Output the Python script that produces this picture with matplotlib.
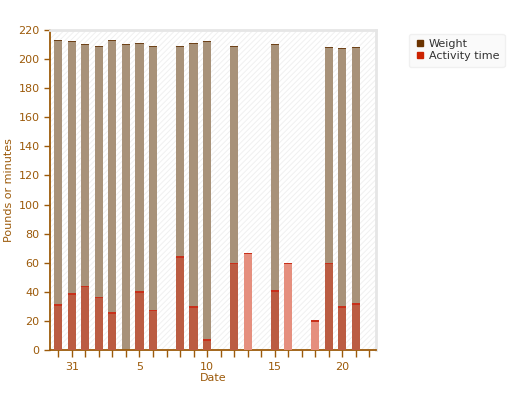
#weight and activity per day, stacked style bar chart
import matplotlib.pyplot as plt
import matplotlib.patches as mpatches
from matplotlib.lines import Line2D

# day index: 31 -> 0, following month days 1..21 -> 1..21, 30 -> -1
weight_days = [-1, 0, 1, 2, 3, 4, 5, 6, 8, 9, 10, 12, 15, 19, 20, 21]
weight_vals = [213.3, 212.6, 210.6, 209.2, 213.3, 210.6, 211.3, 209.2,
               209.1, 211.4, 212.7, 209.1, 210.6, 208.5, 207.8, 208.4]

activity_days = [-1, 0, 1, 2, 3, 5, 6, 8, 9, 10, 12, 13, 15, 16, 18, 19, 20, 21]
activity_vals = [31.5, 39, 44, 36.5, 26, 40.5, 27.5, 64.5, 30, 7.5, 60, 67, 41, 60, 20.5, 60, 30, 32]

tick_days = [0, 5, 10, 15, 20]
tick_labels = ["31", "5", "10", "15", "20"]

brown = "#9c5a0a"
width = 0.6

plt.rcParams["hatch.linewidth"] = 0.7

fig = plt.figure(figsize=(5.2, 4.0), dpi=100)
ax = fig.add_axes([50 / 520, 50 / 400, 326 / 520, 320 / 400])

# hatched background
bg = mpatches.Rectangle((0, 0), 1, 1, transform=ax.transAxes, facecolor="white",
                        edgecolor="#f0f0f0", hatch="//////", linewidth=0, zorder=0)
ax.add_patch(bg)

ax.bar(weight_days, weight_vals, width=width, color="#a89279", zorder=2)
ax.bar(weight_days, [1.0] * len(weight_vals), bottom=[w - 1.0 for w in weight_vals],
       width=width, color="#6e4218", zorder=2)

for d, v in zip(activity_days, activity_vals):
    face = "#bb5c42" if d in weight_days else "#e58f7e"
    ax.bar(d, v, width=width, color=face, zorder=3)
    ax.bar(d, 1.0, bottom=v - 1.0, width=width, color="#c8301a", zorder=3)

ax.set_xlim(-1.62, 22.5)
ax.set_ylim(0, 220)
ax.set_yticks(range(0, 221, 20))
ax.set_xticks(tick_days)
ax.set_xticklabels(tick_labels)
ax.set_xticks(range(-1, 23), minor=True)

ax.tick_params(axis="both", colors=brown, labelcolor=brown, labelsize=8, length=4, width=1)
ax.tick_params(axis="x", which="minor", colors=brown, length=5, width=1)
ax.tick_params(axis="x", which="major", length=5)

for s in ["left", "bottom"]:
    ax.spines[s].set_color(brown)
    ax.spines[s].set_linewidth(1.3)
for s in ["top", "right"]:
    ax.spines[s].set_color("#e6e6e6")
    ax.spines[s].set_linewidth(2)

ax.set_xlabel("Date", color=brown, fontsize=8, labelpad=1)
ax.set_ylabel("Pounds or minutes", color=brown, fontsize=8)
ax.yaxis.set_label_coords(-0.11, 0.5)

handles = [Line2D([], [], marker="s", linestyle="", color="#6b3300", markersize=4),
           Line2D([], [], marker="s", linestyle="", color="#cc2200", markersize=4)]
leg = fig.legend(handles, ["Weight", "Activity time"], loc="upper left",
                 bbox_to_anchor=(403 / 520, 372 / 400), fontsize=8, frameon=True,
                 handletextpad=0.3, borderpad=0.5, labelspacing=0.2, handlelength=1)
leg.get_frame().set_facecolor("#f9f9f9")
leg.get_frame().set_edgecolor("#eeeeee")
for t in leg.get_texts():
    t.set_color("#333333")

plt.savefig("out.png")
